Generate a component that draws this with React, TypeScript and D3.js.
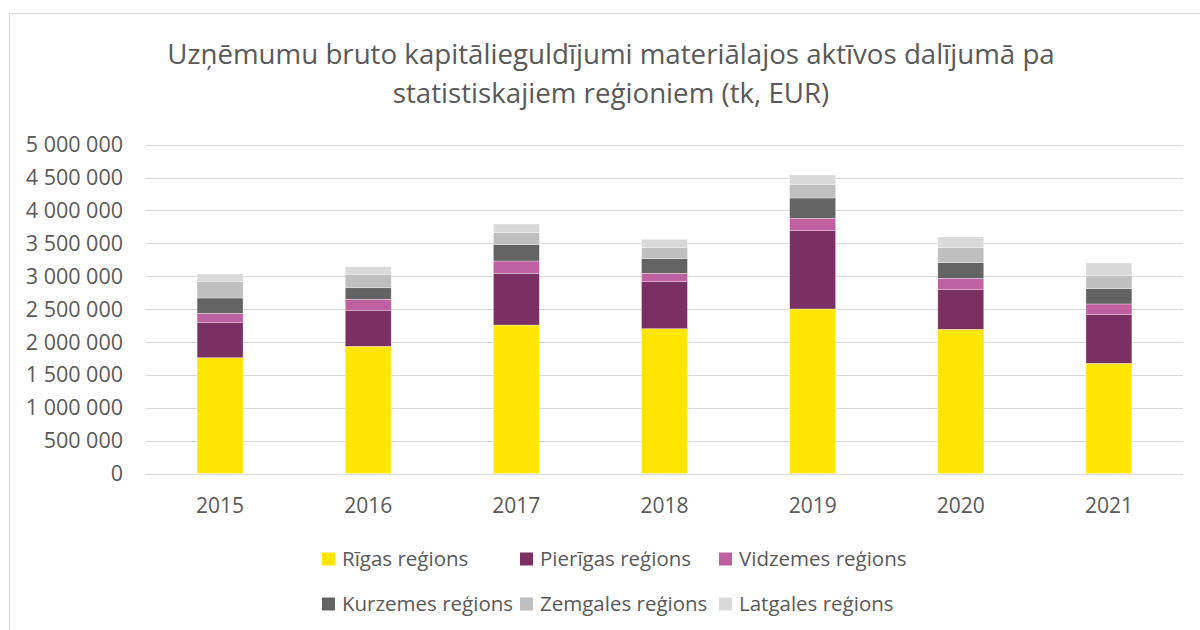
import React from "react";
import * as d3 from "d3";

const years = ["2015", "2016", "2017", "2018", "2019", "2020", "2021"];
const seriesNames = [
  "Rīgas reģions",
  "Pierīgas reģions",
  "Vidzemes reģions",
  "Kurzemes reģions",
  "Zemgales reģions",
  "Latgales reģions",
];
const rigas = [1761000, 1934000, 2258000, 2202000, 2502000, 2193000, 1676000];
const pierigas = [532000, 548000, 786000, 715000, 1190000, 602000, 739000];
const vidzemes = [143000, 167000, 187000, 127000, 189000, 173000, 163000];
const kurzemes = [233000, 176000, 248000, 222000, 309000, 238000, 232000];
const zemgales = [248000, 198000, 183000, 168000, 208000, 228000, 204000];
const latgales = [117000, 122000, 132000, 127000, 141000, 162000, 187000];
const yTicks = [0, 500000, 1000000, 1500000, 2000000, 2500000, 3000000, 3500000, 4000000, 4500000, 5000000];
const titleLines = [
  "Uzņēmumu bruto kapitālieguldījumi materiālajos aktīvos dalījumā pa",
  "statistiskajiem reģioniem (tk, EUR)",
];
const colors = ["#FFE600", "#7A3063", "#BF60A0", "#636363", "#BFBFBF", "#D9D9D9"];

const FONT = "'Open Sans', sans-serif";
const TEXT = "#595959";

export default function App() {
  const seriesValues = [rigas, pierigas, vidzemes, kurzemes, zemgales, latgales];
  const rows = years.map((y, i) => {
    const r: any = { year: y };
    seriesNames.forEach((n, k) => (r[n] = seriesValues[k][i]));
    return r;
  });
  const stacked = d3.stack().keys(seriesNames)(rows);

  const x = d3.scaleBand().domain(years).range([146, 1183]).paddingInner(0.69).paddingOuter(0.345);
  const y = d3.scaleLinear().domain([0, 5000000]).range([473.5, 144.7]);
  const fmt = (v: number) => d3.format(",")(v).replace(/,/g, " ");

  const legendCols = [322, 520, 719];
  const legendY = [559, 604];

  return (
    <svg
      width={1200}
      height={630}
      style={{ position: "absolute", left: 0, top: 0, background: "#fff" }}
      fontFamily={FONT}
    >
      <rect x={0} y={0} width={1200} height={630} fill="#fff" />
      <rect x={9.5} y={13.5} width={1200} height={630} fill="#fff" stroke="#D9D9D9" strokeWidth={1} />
      {titleLines.map((t, i) => (
        <text key={i} x={611} y={64 + i * 38.5} textAnchor="middle" fontSize={27.7} fill={TEXT}>
          {t}
        </text>
      ))}
      {yTicks.map((t) => (
        <g key={t}>
          <line x1={146} x2={1183} y1={Math.round(y(t)) + 0.5} y2={Math.round(y(t)) + 0.5} stroke="#D9D9D9" strokeWidth={1} />
          <text x={123} y={y(t)} dy="0.35em" textAnchor="end" fontSize={21.5} fill={TEXT}>
            {fmt(t)}
          </text>
        </g>
      ))}
      {stacked.map((s, k) => (
        <g key={k} fill={colors[k]}>
          {s.map((d, i) => (
            <rect
              key={i}
              x={x(years[i])}
              width={x.bandwidth()}
              y={y(d[1])}
              height={y(d[0]) - y(d[1])}
              stroke="#ffffff"
              strokeOpacity={0.5}
              strokeWidth={0.6}
            />
          ))}
        </g>
      ))}
      {years.map((yr) => (
        <text key={yr} x={(x(yr) as number) + x.bandwidth() / 2} y={512.5} textAnchor="middle" fontSize={21} fill={TEXT}>
          {yr}
        </text>
      ))}
      {seriesNames.map((name, i) => {
        const cx = legendCols[i % 3];
        const cy = legendY[Math.floor(i / 3)];
        return (
          <g key={name}>
            <rect x={cx} y={cy - 6.5} width={13} height={13} fill={colors[i]} />
            <text x={cx + 20} y={cy} dy="0.35em" fontSize={20.5} fill={TEXT}>
              {name}
            </text>
          </g>
        );
      })}
    </svg>
  );
}
